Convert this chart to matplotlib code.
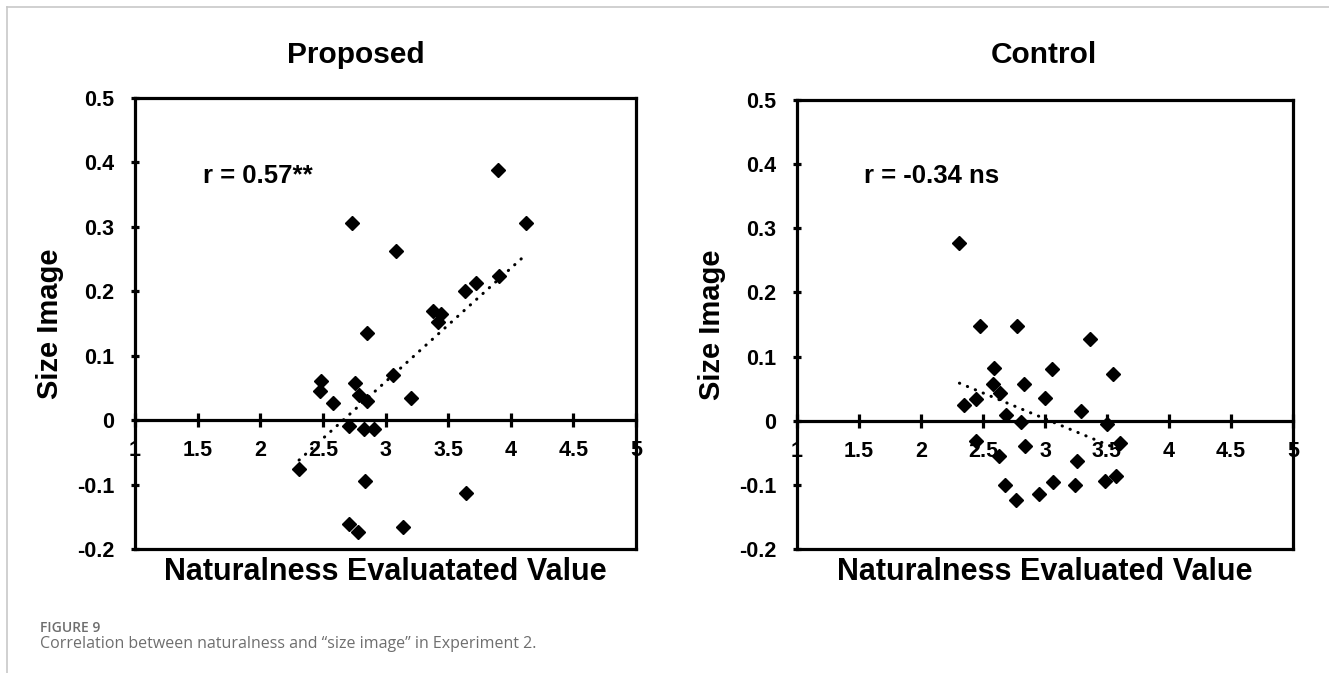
import numpy as np
import matplotlib
matplotlib.use("Agg")
import matplotlib.pyplot as plt
from matplotlib.lines import Line2D

plt.rcParams['font.family'] = ['Liberation Sans', 'DejaVu Sans']

# Proposed condition
prop_x = [3.90, 2.73, 4.12, 3.085, 3.906, 3.725, 3.632, 3.38, 3.445, 3.42,
          2.85, 3.06, 2.485, 2.76, 2.48, 2.786, 3.205, 2.85, 2.584, 2.71,
          2.83, 2.91, 2.31, 2.84, 3.64, 2.71, 2.78, 3.14]
prop_y = [0.388, 0.306, 0.306, 0.263, 0.224, 0.213, 0.201, 0.169, 0.165, 0.153,
          0.136, 0.070, 0.061, 0.058, 0.045, 0.039, 0.034, 0.030, 0.026, -0.009,
          -0.014, -0.013, -0.076, -0.095, -0.113, -0.161, -0.173, -0.166]

# Control condition
ctrl_x = [2.31, 2.473, 2.775, 3.362, 2.592, 3.058, 3.548, 2.581, 2.829, 2.635,
          2.446, 3.004, 2.344, 3.287, 2.689, 2.808, 3.497, 2.444, 3.605, 2.837,
          2.627, 3.26, 2.675, 3.066, 3.238, 3.483, 3.57, 2.95, 2.767]
ctrl_y = [0.277, 0.147, 0.147, 0.128, 0.082, 0.081, 0.073, 0.057, 0.058, 0.043,
          0.034, 0.036, 0.025, 0.015, 0.009, -0.002, -0.005, -0.031, -0.035, -0.040,
          -0.055, -0.0625, -0.100, -0.095, -0.100, -0.094, -0.086, -0.115, -0.124]

x_ticks = [1, 1.5, 2, 2.5, 3, 3.5, 4, 4.5, 5]
x_tick_labels = ['1', '1.5', '2', '2.5', '3', '3.5', '4', '4.5', '5']
y_ticks = [-0.2, -0.1, 0, 0.1, 0.2, 0.3, 0.4, 0.5]
y_tick_labels = ['-0.2', '-0.1', '0', '0.1', '0.2', '0.3', '0.4', '0.5']

panels = [
    dict(title='Proposed', x=prop_x, y=prop_y, r='r = 0.57**',
         xlabel='Naturalness Evaluatated Value', title_x=355.5),
    dict(title='Control', x=ctrl_x, y=ctrl_y, r='r = -0.34 ns',
         xlabel='Naturalness Evaluated Value', title_x=1044),
]

W, H = 1329, 673
fig = plt.figure(figsize=(W / 100, H / 100), dpi=100)

boxes = [(135, 98, 636, 549), (797, 100, 1293, 549)]
lw = 2.3

for p, (l, t, r, b) in zip(panels, boxes):
    ax = fig.add_axes([l / W, 1 - b / H, (r - l) / W, (b - t) / H])
    ax.set_xlim(1, 5)
    ax.set_ylim(-0.2, 0.5)
    for s in ax.spines.values():
        s.set_linewidth(lw)

    # data points
    ax.plot(p['x'], p['y'], linestyle='none', marker='D', markersize=7,
            color='black', zorder=3)

    # linear trend line over data range
    xs = np.array(p['x'])
    k, c = np.polyfit(xs, np.array(p['y']), 1)
    xx = np.array([xs.min(), xs.max()])
    ax.plot(xx, k * xx + c, color='black', lw=2.2,
            linestyle=(0, (0.1, 2.7)), dash_capstyle='round', zorder=2)

    # y axis
    ax.set_yticks(y_ticks)
    ax.set_yticklabels(y_tick_labels, fontsize=15.5, fontweight='bold')
    ax.tick_params(axis='y', direction='inout', length=6, width=lw, pad=12)

    # x axis crossing at y = 0
    ax.set_xticks([])
    sec = ax.secondary_xaxis(2 / 7)
    sec.spines['bottom'].set_linewidth(lw)
    sec.set_xticks(x_ticks)
    sec.set_xticklabels(x_tick_labels, fontsize=15.5, fontweight='bold')
    sec.tick_params(axis='x', direction='inout', length=10.5, width=lw, pad=9)

    ax.set_xlabel(p['xlabel'], fontsize=22, fontweight='bold')
    ax.xaxis.label.set_va('center')
    ax.xaxis.set_label_coords(0.5, (b - 572) / (b - t))
    ax.set_ylabel('Size Image', fontsize=21, fontweight='bold')
    ax.yaxis.label.set_va('center')
    ax.yaxis.set_label_coords(-85 / (r - l), 0.5)

    ax.text(0.135, (b - 183) / (b - t), p['r'], transform=ax.transAxes,
            fontsize=18.5, fontweight='bold', ha='left', va='baseline')

    fig.text(p['title_x'] / W, 1 - 63 / H, p['title'], fontsize=21.5,
             fontweight='bold', ha='center', va='baseline')

# page frame lines
fig.add_artist(Line2D([7 / W, 1], [1 - 7 / H, 1 - 7 / H], color='#c8c8c8', lw=1.2))
fig.add_artist(Line2D([7 / W, 7 / W], [0, 1 - 7 / H], color='#c8c8c8', lw=1.2))

# caption
fig.text(40 / W, 1 - 632 / H, 'FIGURE 9', fontsize=10, color='#6e6e6e',
         family=['Open Sans', 'DejaVu Sans'], fontweight='semibold', va='baseline')
fig.text(40 / W, 1 - 648 / H,
         'Correlation between naturalness and \u201csize image\u201d in Experiment 2.',
         fontsize=11.5, color='#6e6e6e', family=['Open Sans', 'DejaVu Sans'],
         fontweight='normal', va='baseline')

fig.savefig('out.png', dpi=100)
